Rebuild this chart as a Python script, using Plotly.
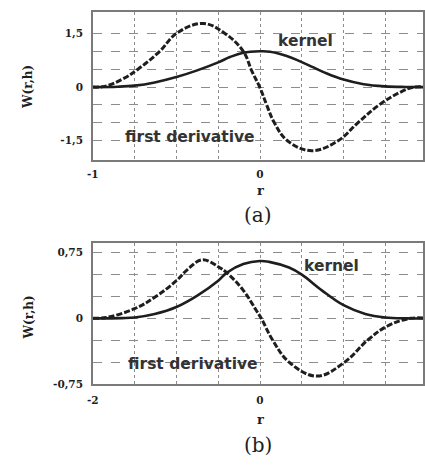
import plotly.graph_objects as go

# ---- data ----
# panel (a): support [-1, 1]
r_a_kernel = [-1, -0.85, -0.75, -0.63, -0.5, -0.38, -0.25, -0.18, -0.1, 0, 0.06, 0.16, 0.24, 0.32, 0.40, 0.5, 0.62, 0.75, 0.87, 1]
w_a_kernel = [0, 0.01, 0.04, 0.13, 0.28, 0.46, 0.69, 0.84, 0.96, 1.0, 0.99, 0.87, 0.72, 0.55, 0.38, 0.21, 0.08, 0.02, 0.003, 0]

r_a_deriv = [-1, -0.93, -0.82, -0.73, -0.60, -0.50, -0.34, -0.21, -0.10, -0.05, 0.0, 0.04, 0.086, 0.164, 0.31, 0.467, 0.585, 0.712, 0.84, 0.92, 1.0]
w_a_deriv = [0, 0.02, 0.23, 0.5, 1.0, 1.5, 1.78, 1.5, 1.0, 0.46, -0.02, -0.5, -1.0, -1.5, -1.78, -1.5, -1.0, -0.5, -0.14, 0, 0]

# panel (b): support [-2, 2]
r_b_kernel = [-2, -1.65, -1.5, -1.26, -1.0, -0.75, -0.5, -0.4, -0.2, 0, 0.11, 0.347, 0.5, 0.74, 1.0, 1.26, 1.5, 1.75, 2]
w_b_kernel = [0, 0.003, 0.01, 0.05, 0.13, 0.26, 0.43, 0.52, 0.62, 0.655, 0.645, 0.58, 0.50, 0.32, 0.15, 0.05, 0.01, 0, 0]

r_b_deriv = [-2, -1.84, -1.5, -1.26, -1.0, -0.865, -0.69, -0.5, -0.396, -0.2, -0.044, 0.015, 0.152, 0.347, 0.68, 1.013, 1.286, 1.52, 1.80, 2]
w_b_deriv = [0, 0.01, 0.11, 0.24, 0.43, 0.56, 0.67, 0.59, 0.52, 0.32, 0.09, 0, -0.25, -0.5, -0.66, -0.5, -0.25, -0.09, 0, 0]

# tick positions / labels
xa_ticks = [-1, -0.75, -0.5, -0.25, 0, 0.25, 0.5, 0.75, 1]
xa_text = ["-1", "", "", "", "0", "", "", "", "1"]
ya_ticks = [-1.5, -1, -0.5, 0, 0.5, 1, 1.5]
ya_text = ["-1,5", "", "", "0", "", "", "1,5"]
xb_ticks = [-2, -1.5, -1, -0.5, 0, 0.5, 1, 1.5, 2]
xb_text = ["-2", "", "", "", "0", "", "", "", "2"]
yb_ticks = [-0.75, -0.5, -0.25, 0, 0.25, 0.5, 0.75]
yb_text = ["-0,75", "", "", "0", "", "", "0,75"]

W, H = 425, 466
ink = "#1e1e1e"

fig = go.Figure()
line_solid = dict(color=ink, width=2.6, shape="spline", smoothing=1.1)
line_dash = dict(color=ink, width=3, dash="6px,2px", shape="spline", smoothing=1.1)

fig.add_trace(go.Scatter(x=r_a_kernel, y=w_a_kernel, mode="lines", line=line_solid, xaxis="x", yaxis="y"))
fig.add_trace(go.Scatter(x=r_a_deriv, y=w_a_deriv, mode="lines", line=line_dash, xaxis="x", yaxis="y"))
fig.add_trace(go.Scatter(x=r_b_kernel, y=w_b_kernel, mode="lines", line=line_solid, xaxis="x2", yaxis="y2"))
fig.add_trace(go.Scatter(x=r_b_deriv, y=w_b_deriv, mode="lines", line=line_dash, xaxis="x2", yaxis="y2"))

tickfont = dict(family="DejaVu Serif", size=10.5, color=ink, weight="bold")
common = dict(showgrid=True, gridcolor="#8c8c8c", gridwidth=1, zeroline=False,
              showline=True, mirror=True, linecolor="#7a7a7a", linewidth=1.5,
              ticks="", tickfont=tickfont, fixedrange=True)

xdom = [88.5 / W, 1.0]
def ydom(top, bot):
    return [1 - bot / H, 1 - top / H]

fig.update_layout(
    width=W, height=H, margin=dict(l=0, r=0, t=0, b=0),
    paper_bgcolor="white", plot_bgcolor="white", showlegend=False,
    xaxis=dict(domain=xdom, range=[-1, 0.975], tickvals=xa_ticks, ticktext=xa_text,
               griddash="dot", anchor="y", ticklabelstandoff=3, **common),
    yaxis=dict(domain=ydom(12.5, 162.5), range=[-2.05, 2.09], tickvals=ya_ticks, ticktext=ya_text,
               griddash="dash", anchor="x", ticklabelstandoff=6, **common),
    xaxis2=dict(domain=xdom, range=[-2, 1.95], tickvals=xb_ticks, ticktext=xb_text,
                griddash="dot", anchor="y2", ticklabelstandoff=6, **common),
    yaxis2=dict(domain=ydom(246.5, 389), range=[-0.75, 0.857], tickvals=yb_ticks, ticktext=yb_text,
                griddash="dash", anchor="x2", ticklabelstandoff=6, **common),
)

serif_b = dict(family="DejaVu Serif", color=ink, weight="bold")
sans = dict(family="DejaVu Sans", size=15.5, color="#333333", weight="bold")
mid = dict(xanchor="center", yanchor="middle", showarrow=False)

ann = []
for yc in (88.5, 322):
    ann.append(dict(text="W(r,h)", xref="paper", yref="paper", x=23 / W, y=1 - yc / H,
                    textangle=-90, font=dict(size=12, **serif_b), **mid))
for yc in (193, 425):
    ann.append(dict(text="r", xref="paper", yref="paper", x=259 / W, y=1 - yc / H,
                    font=dict(size=13, **serif_b), **mid))
for txt, yc in (("(a)", 218), ("(b)", 451)):
    ann.append(dict(text=txt, xref="paper", yref="paper", x=257 / W, y=1 - yc / H,
                    font=dict(family="DejaVu Serif", size=20, color=ink), **mid))
ann += [
    dict(text="kernel", xref="x", yref="y", x=0.27, y=1.28, font=sans, **mid),
    dict(text="first derivative", xref="x", yref="y", x=-0.42, y=-1.40, font=sans, **mid),
    dict(text="kernel", xref="x2", yref="y2", x=0.858, y=0.594, font=sans, **mid),
    dict(text="first derivative", xref="x2", yref="y2", x=-0.80, y=-0.52, font=sans, **mid),
]
fig.update_layout(annotations=ann)

fig.write_html("out.html", config={"displayModeBar": False})
